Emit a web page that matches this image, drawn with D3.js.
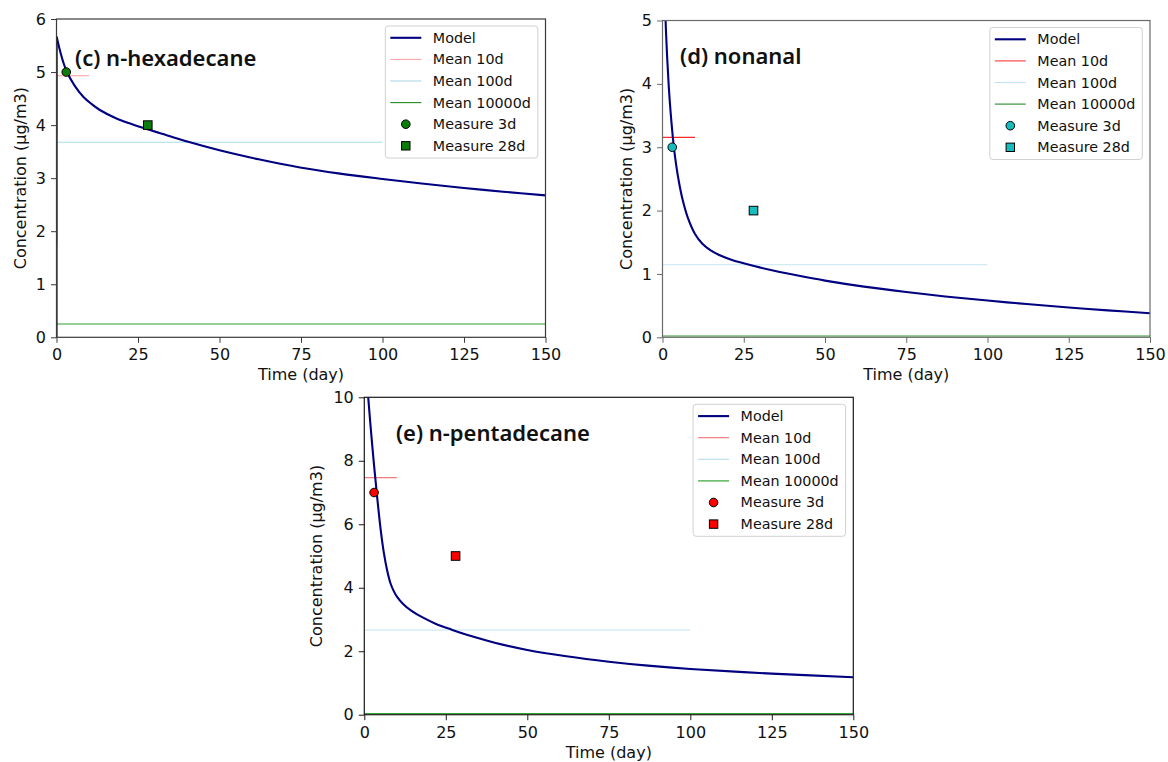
<!DOCTYPE html>
<html>
<head>
<meta charset="utf-8">
<script src="https://cdn.jsdelivr.net/npm/d3@7"></script>
<style>
  html, body { margin: 0; padding: 0; background: #fff; }
  svg { display: block; }
</style>
</head>
<body>
<svg id="chart" width="1168" height="762"></svg>
<script>
// ---------------- DATA ----------------
const xTicks = [0, 25, 50, 75, 100, 125, 150];
const cYTicks = [0, 1, 2, 3, 4, 5, 6];
const dYTicks = [0, 1, 2, 3, 4, 5];
const eYTicks = [0, 2, 4, 6, 8, 10];

const titles = ["(c) n-hexadecane", "(d) nonanal", "(e) n-pentadecane"];
const legendLabels = ["Model", "Mean 10d", "Mean 100d", "Mean 10000d", "Measure 3d", "Measure 28d"];
const xLabel = "Time (day)";
const yLabel = "Concentration (\u00b5g/m3)";

// model curves (time in days, concentration)
const cModelT = [0, 0.05, 1.0, 2.0, 3.07, 5.5, 8.2, 10.7, 13.3, 18.4, 23, 27.9, 34, 40.4, 50, 62, 74.7, 87, 100, 112, 125, 137, 150];
const cModelC = [0, 5.667, 5.42, 5.2, 5.02, 4.75, 4.535, 4.4, 4.285, 4.125, 4.02, 3.92, 3.805, 3.685, 3.525, 3.355, 3.2, 3.085, 2.985, 2.9, 2.815, 2.745, 2.675];

const dModelT = [0.7, 0.95, 1.4, 1.9, 2.5, 3.4, 4.2, 5.1, 6.2, 7.7, 10, 12.2, 14.7, 17.8, 21.4, 28.5, 34.7, 42, 50, 62, 75, 87, 100, 112, 125, 137, 150];
const dModelC = [5.55, 5.0, 4.45, 3.98, 3.55, 3.05, 2.72, 2.44, 2.17, 1.90, 1.63, 1.48, 1.375, 1.29, 1.22, 1.12, 1.045, 0.97, 0.895, 0.80, 0.715, 0.645, 0.58, 0.525, 0.47, 0.425, 0.38];

const eModelT = [1.0, 1.2, 2.0, 3.0, 4.0, 5.0, 6.0, 7.0, 8.0, 9.0, 10, 11.9, 14.5, 17.6, 22, 26.8, 33, 40, 50, 62, 75, 87, 100, 125, 150];
const eModelC = [10.3, 10.0, 9.0, 7.85, 6.8, 5.85, 5.1, 4.55, 4.15, 3.9, 3.72, 3.49, 3.27, 3.08, 2.86, 2.68, 2.47, 2.27, 2.04, 1.84, 1.67, 1.545, 1.44, 1.295, 1.18];

// mean values over the first 10, 100 and 10000 days
const meanPeriods = [10, 100, 10000];
const cMeans = [4.93, 3.676, 0.25];
const dMeans = [3.155, 1.147, 0.02];
const eMeans = [7.47, 2.67, 0.04];

// measurements at 3 and 28 days
const measureDays = [3, 28];
const cMeasures = [5.0, 4.0];
const dMeasures = [3.0, 2.0];
const eMeasures = [7.0, 5.0];

// ---------------- STYLE / LAYOUT ----------------
const panels = [
  { key: "c", box: { l: 56.5, r: 545.5, t: 19, b: 337.3 }, yMax: 6, yTicks: cYTicks,
    modelT: cModelT, modelC: cModelC, means: cMeans, meas: cMeasures, title: titles[0],
    titlePos: [5.7, 5.12], spine: "#3a3a3a", startsAtZero: true,
    meanColors: ["#ff9c9c", "#a9dcec", "#2ea02e"], legendMeanColors: ["#ffa5a5", "#add8e6", "#1f8a1f"],
    markerFill: "#0a7d0a", ylabX: 20 },
  { key: "d", box: { l: 662.5, r: 1150, t: 20.5, b: 337.3 }, yMax: 5, yTicks: dYTicks,
    modelT: dModelT, modelC: dModelC, means: dMeans, meas: dMeasures, title: titles[1],
    titlePos: [5.4, 4.31], spine: "#6a6a6a", startsAtZero: false,
    meanColors: ["#ff2a2a", "#d3ebf4", "#2e9a2e"], legendMeanColors: ["#ff3a3a", "#bfe3ee", "#2a8a2a"],
    markerFill: "#17bcbc", ylabX: 626.5 },
  { key: "e", box: { l: 364.3, r: 853.3, t: 397.3, b: 714.7 }, yMax: 10, yTicks: eYTicks,
    modelT: eModelT, modelC: eModelC, means: eMeans, meas: eMeasures, title: titles[2],
    titlePos: [9.7, 8.62], spine: "#1a1a1a", startsAtZero: false,
    meanColors: ["#f27c7c", "#c0e1ee", "#2ea52e"], legendMeanColors: ["#f27070", "#b8dcec", "#1f9a1f"],
    markerFill: "#ff0000", ylabX: 316 }
];

const svg = d3.select("#chart");
svg.append("rect").attr("width", 1168).attr("height", 762).attr("fill", "#fff");

const tickFont = "DejaVu Sans, Liberation Sans, sans-serif";

panels.forEach((p) => {
  const b = p.box;
  const x = d3.scaleLinear().domain([0, 150]).range([b.l, b.r]);
  const y = d3.scaleLinear().domain([0, p.yMax]).range([b.b, b.t]);
  const g = svg.append("g").attr("class", "panel-" + p.key);

  const clipId = "clip-" + p.key;
  g.append("clipPath").attr("id", clipId)
    .append("rect").attr("x", b.l).attr("y", b.t).attr("width", b.r - b.l).attr("height", b.b - b.t);

  const plot = g.append("g").attr("clip-path", `url(#${clipId})`);

  // mean lines
  p.means.forEach((m, i) => {
    plot.append("line")
      .attr("x1", x(0)).attr("x2", x(Math.min(meanPeriods[i], 160)))
      .attr("y1", y(m)).attr("y2", y(m))
      .attr("stroke", p.meanColors[i]).attr("stroke-width", 1.1);
  });

  // model curve
  const pts = p.modelT.map((t, i) => [t, p.modelC[i]]);
  const lineLin = d3.line().x(d => x(d[0])).y(d => y(d[1]));
  const lineSmooth = d3.line().x(d => x(d[0])).y(d => y(d[1])).curve(d3.curveCatmullRom.alpha(0.5));
  const smoothPts = p.startsAtZero ? pts.slice(1) : pts;
  plot.append("path")
    .datum(smoothPts)
    .attr("fill", "none")
    .attr("stroke", "#000080")
    .attr("stroke-width", 2.1)
    .attr("stroke-linejoin", "round")
    .attr("d", lineSmooth);

  // measurements
  plot.append("circle")
    .attr("cx", x(measureDays[0])).attr("cy", y(p.meas[0])).attr("r", 4.3)
    .attr("fill", p.markerFill).attr("stroke", "#000").attr("stroke-width", 1);
  const sq = 8.6;
  plot.append("rect")
    .attr("x", x(measureDays[1]) - sq / 2).attr("y", y(p.meas[1]) - sq / 2)
    .attr("width", sq).attr("height", sq)
    .attr("fill", p.markerFill).attr("stroke", "#000").attr("stroke-width", 1);

  // axes
  const xAxis = g.append("g").attr("transform", `translate(0,${b.b})`)
    .call(d3.axisBottom(x).tickValues(xTicks).tickSize(5.5).tickPadding(6).tickFormat(d3.format("d")));
  const yAxis = g.append("g").attr("transform", `translate(${b.l},0)`)
    .call(d3.axisLeft(y).tickValues(p.yTicks).tickSize(5.5).tickPadding(5).tickFormat(d3.format("d")));
  [xAxis, yAxis].forEach(a => {
    a.select(".domain").remove();
    a.selectAll(".tick line").attr("stroke", p.spine).attr("stroke-width", 1);
    a.selectAll(".tick text").attr("font-family", tickFont).attr("font-size", 16).attr("fill", "#111");
  });

  // frame
  g.append("rect").attr("x", b.l).attr("y", b.t).attr("width", b.r - b.l).attr("height", b.b - b.t)
    .attr("fill", "none").attr("stroke", p.spine).attr("stroke-width", 1.2);
  if (p.startsAtZero) {
    // model line drawn along the left edge (t = 0) sits on top of the spine
    plot.append("path").datum(pts.slice(0, 2))
      .attr("fill", "none").attr("stroke", "#000080").attr("stroke-width", 2.1)
      .attr("d", lineLin);
  }

  // axis labels
  g.append("text").attr("x", (b.l + b.r) / 2).attr("y", b.b + 43)
    .attr("text-anchor", "middle").attr("font-family", tickFont).attr("font-size", 16).attr("fill", "#111")
    .text(xLabel);
  g.append("text")
    .attr("transform", `translate(${p.ylabX},${(b.t + b.b) / 2}) rotate(-90)`)
    .attr("text-anchor", "middle").attr("dominant-baseline", "central")
    .attr("font-family", tickFont).attr("font-size", 16).attr("fill", "#111")
    .text(yLabel);

  // title
  g.append("text")
    .attr("x", x(p.titlePos[0])).attr("y", y(p.titlePos[1]))
    .attr("font-family", "Noto Sans, Open Sans, sans-serif").attr("font-weight", 600)
    .attr("font-size", 22).attr("fill", "#111")
    .text(p.title);

  // legend
  const lw = 152.5, lh = 132;
  const lx = b.r - 7.7 - lw, ly = b.t + 7;
  const lg = g.append("g").attr("transform", `translate(${lx},${ly})`);
  lg.append("rect").attr("x", 0).attr("y", 0).attr("width", lw).attr("height", lh).attr("rx", 3)
    .attr("fill", "#fff").attr("fill-opacity", 0.85).attr("stroke", "#d0d0d0").attr("stroke-width", 1);
  const rowY = i => 11.8 + i * 21.6;
  legendLabels.forEach((lab, i) => {
    const ry = rowY(i);
    if (i === 0) {
      lg.append("line").attr("x1", 5).attr("x2", 36).attr("y1", ry).attr("y2", ry)
        .attr("stroke", "#000080").attr("stroke-width", 2.1);
    } else if (i <= 3) {
      lg.append("line").attr("x1", 5).attr("x2", 36).attr("y1", ry).attr("y2", ry)
        .attr("stroke", p.legendMeanColors[i - 1]).attr("stroke-width", 1.1);
    } else if (i === 4) {
      lg.append("circle").attr("cx", 20.5).attr("cy", ry).attr("r", 4.3)
        .attr("fill", p.markerFill).attr("stroke", "#000").attr("stroke-width", 1);
    } else {
      lg.append("rect").attr("x", 20.5 - 4.2).attr("y", ry - 4.2).attr("width", 8.4).attr("height", 8.4)
        .attr("fill", p.markerFill).attr("stroke", "#000").attr("stroke-width", 1);
    }
    lg.append("text").attr("x", 47.5).attr("y", ry).attr("dominant-baseline", "central")
      .attr("font-family", tickFont).attr("font-size", 14.3).attr("fill", "#111")
      .text(lab);
  });
});
</script>
</body>
</html>
